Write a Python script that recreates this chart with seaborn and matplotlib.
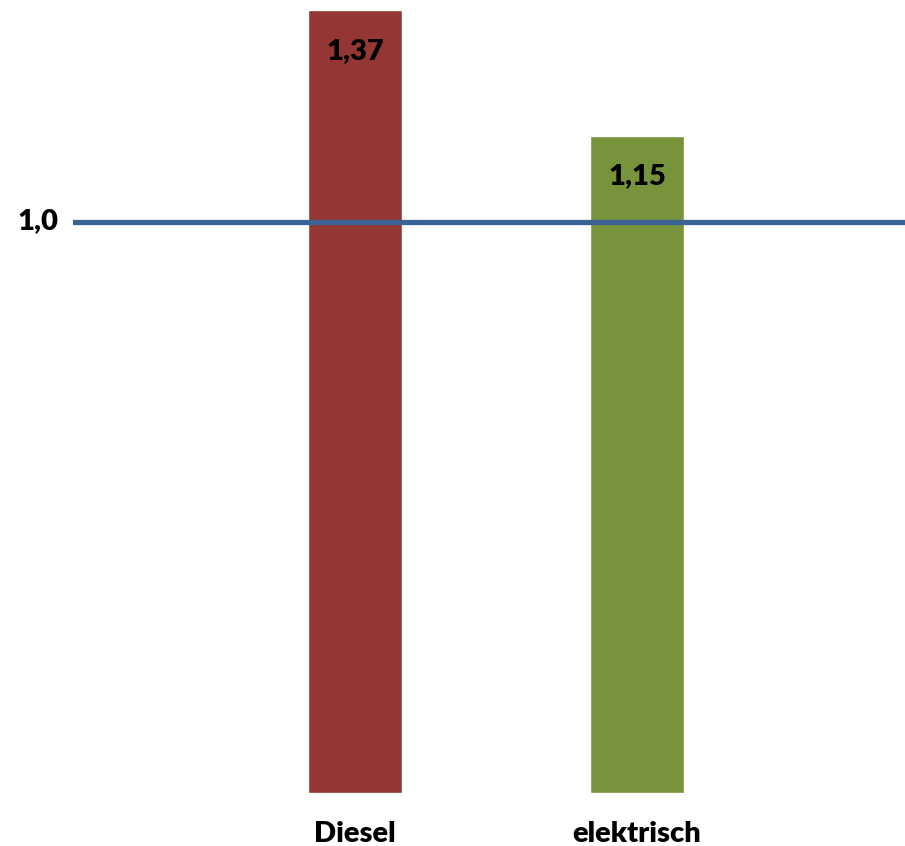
import pandas as pd
import seaborn as sns
import matplotlib.pyplot as plt

# values
antrieb = ["Diesel", "elektrisch"]
faktor = [1.37, 1.15]
labels = ["1,37", "1,15"]
farben = ["#943634", "#77933C"]
referenz = 1.0
referenz_label = "1,0"

df = pd.DataFrame({"antrieb": antrieb, "faktor": faktor})

sns.set_style("white")
plt.rcParams['font.family'] = ['Lato', 'DejaVu Sans']
plt.rcParams['text.color'] = 'black'
plt.rcParams['xtick.color'] = 'black'

fig = plt.figure(figsize=(9.05, 8.46), dpi=100)
ax = fig.add_axes([73 / 905, 53 / 846, 832 / 905, 793 / 846])

sns.barplot(data=df, x="antrieb", y="faktor", hue="antrieb", palette=farben,
            width=0.333, legend=False, saturation=1, ax=ax)

ax.axhline(referenz, color="#3A6294", lw=3.8, zorder=5)
ax.set_xlim(-1, 1.95)
ax.set_ylim(0, 1.3876)

for i, (v, lab) in enumerate(zip(faktor, labels)):
    ax.text(i, v - 0.071, lab, ha="center", va="center",
            fontsize=21, fontweight="heavy", color="black")

ax.text(-1.05, referenz, referenz_label, ha="right", va="center",
        fontsize=21, fontweight="heavy", clip_on=False)

ax.set_xlabel("")
ax.set_ylabel("")
ax.set_yticks([])
ax.tick_params(axis="x", length=0, pad=20, labelsize=21)
for t in ax.get_xticklabels():
    t.set_fontweight("heavy")
sns.despine(ax=ax, left=True, bottom=True)

fig.savefig("out.png", dpi=100)
